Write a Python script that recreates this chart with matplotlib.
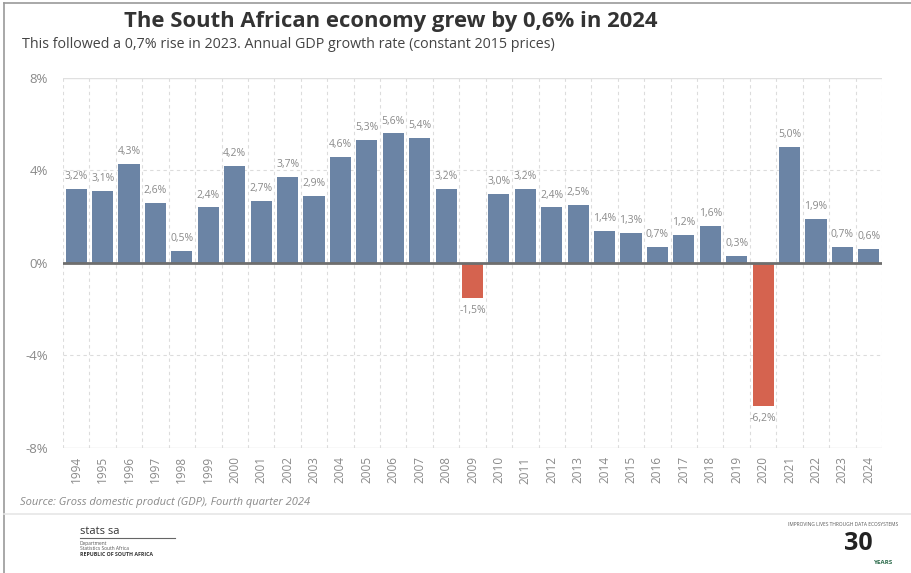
import matplotlib
matplotlib.use("Agg")
import matplotlib.pyplot as plt
from matplotlib.lines import Line2D

years = [str(y) for y in range(1994, 2025)]
growth = [3.2, 3.1, 4.3, 2.6, 0.5, 2.4, 4.2, 2.7, 3.7, 2.9, 4.6, 5.3, 5.6, 5.4, 3.2,
          -1.5, 3.0, 3.2, 2.4, 2.5, 1.4, 1.3, 0.7, 1.2, 1.6, 0.3, -6.2, 5.0, 1.9, 0.7, 0.6]
yticks = [-8, -4, 0, 4, 8]

plt.rcParams['font.family'] = ['Open Sans', 'DejaVu Sans']

POS = "#6b84a5"
NEG = "#d5634f"
GRAY = "#8a8a8a"

fig = plt.figure(figsize=(9.11, 5.73), dpi=100)
ax = fig.add_axes([63/911, 1-448/573, (882-63)/911, (448-78)/573])

x = list(range(len(years)))
colors = [POS if v >= 0 else NEG for v in growth]
ax.bar(x, growth, width=0.8, color=colors, zorder=3)

ax.set_xlim(-0.5, len(years) - 0.5)
ax.set_ylim(-8, 8)
ax.set_yticks(yticks)
ax.set_yticklabels([f"{t}%" for t in yticks], color=GRAY, fontsize=9.5)
ax.set_xticks(x)
ax.set_xticklabels(years, rotation=90, color=GRAY, fontsize=8.5)
ax.tick_params(axis='both', length=0)
ax.tick_params(axis='y', pad=11)
ax.tick_params(axis='x', pad=6)
for s in ax.spines.values():
    s.set_visible(False)

# grid
for b in range(len(years) + 1):
    ax.axvline(b - 0.5, color="#dcdcdc", lw=0.8, ls=(0, (3, 3)), zorder=1)
for t in [-4, 4]:
    ax.axhline(t, color="#dcdcdc", lw=0.8, ls=(0, (3, 3)), zorder=1)
for t in [-8, 8]:
    ax.axhline(t, color="#e0e0e0", lw=1.0, zorder=1)
ax.axhline(0, color="#6e6e6e", lw=2.0, zorder=4)

for xi, v in zip(x, growth):
    lab = f"{v:.1f}%".replace(".", ",")
    if v >= 0:
        ax.annotate(lab, (xi, v), xytext=(0, 5), textcoords="offset points",
                    ha="center", va="bottom", fontsize=7.5, color=GRAY)
    else:
        ax.annotate(lab, (xi, v), xytext=(0, -5), textcoords="offset points",
                    ha="center", va="top", fontsize=7.5, color=GRAY)

# titles
fig.text(391/911, 1-22/573, "The South African economy grew by 0,6% in 2024",
         ha="center", va="center", fontsize=15.8, fontweight="bold", color="#333333")
fig.text(22/911, 1-45/573,
         "This followed a 0,7% rise in 2023. Annual GDP growth rate (constant 2015 prices)",
         ha="left", va="center", fontsize=10.3, color="#444444")

fig.text(20/911, 1-503/573, "Source: Gross domestic product (GDP), Fourth quarter 2024",
         ha="left", va="center", fontsize=8, style="italic", color="#8a8a8a")

# frame & separator
fig.add_artist(Line2D([4/911, 4/911], [0, 1-3/573], transform=fig.transFigure, color="#999999", lw=1.2))
fig.add_artist(Line2D([4/911, 1], [1-3/573, 1-3/573], transform=fig.transFigure, color="#999999", lw=1.2))
fig.add_artist(Line2D([4/911, 1], [1-514/573, 1-514/573], transform=fig.transFigure, color="#e6e6e6", lw=1.2))

# footer branding (text only)
fig.text(80/911, 1-531/573, "stats sa", ha="left", va="center", fontsize=8, color="#333333")
fig.add_artist(Line2D([80/911, 175/911], [1-538/573, 1-538/573], transform=fig.transFigure, color="#666666", lw=0.8))
fig.text(80/911, 1-543/573, "Department", ha="left", va="center", fontsize=3.5, color="#555555")
fig.text(80/911, 1-548/573, "Statistics South Africa", ha="left", va="center", fontsize=3.5, color="#555555")
fig.text(80/911, 1-554/573, "REPUBLIC OF SOUTH AFRICA", ha="left", va="center", fontsize=3.8, fontweight="bold", color="#333333")
fig.text(898/911, 1-524/573, "IMPROVING LIVES THROUGH DATA ECOSYSTEMS", ha="right", va="center", fontsize=3.5, color="#555555")
fig.text(858/911, 1-544/573, "30", ha="center", va="center", fontsize=18, fontweight="bold", color="#222222")
fig.text(884/911, 1-563/573, "YEARS", ha="center", va="center", fontsize=4.5, fontweight="bold", color="#2a6a4a")

fig.savefig("out.png", dpi=100, facecolor="white")
